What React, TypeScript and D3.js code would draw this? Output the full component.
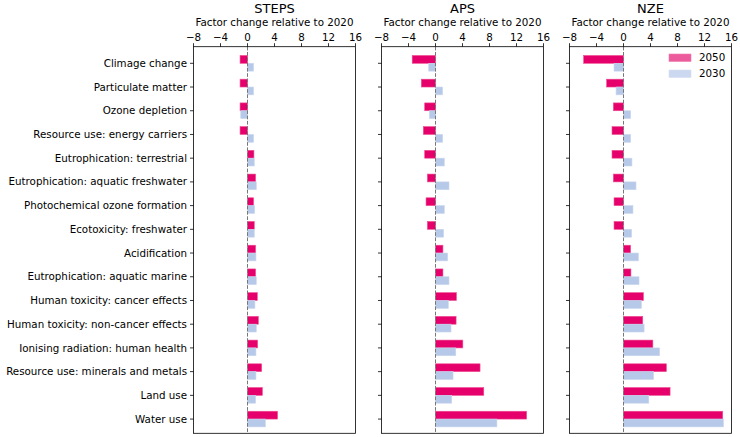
import React from "react";
import * as d3 from "d3";

const categories = [
  "Climage change",
  "Particulate matter",
  "Ozone depletion",
  "Resource use: energy carriers",
  "Eutrophication: terrestrial",
  "Eutrophication: aquatic freshwater",
  "Photochemical ozone formation",
  "Ecotoxicity: freshwater",
  "Acidification",
  "Eutrophication: aquatic marine",
  "Human toxicity: cancer effects",
  "Human toxicity: non-cancer effects",
  "Ionising radiation: human health",
  "Resource use: minerals and metals",
  "Land use",
  "Water use",
];

const scenarios = ["STEPS", "APS", "NZE"];

const steps2050 = [-1.1, -1.1, -1.1, -1.1, 0.95, 1.2, 0.9, 1.0, 1.2, 1.2, 1.45, 1.6, 1.5, 2.1, 2.2, 4.45];
const steps2030 = [0.9, 0.9, -1.0, 0.9, 1.0, 1.3, 1.05, 1.0, 1.25, 1.3, 1.1, 1.3, 1.25, 1.25, 1.2, 2.65];
const aps2050 = [-3.45, -2.1, -1.6, -1.8, -1.6, -1.2, -1.4, -1.2, 1.1, 1.1, 3.1, 3.05, 4.05, 6.6, 7.15, 13.5];
const aps2030 = [-1.0, 1.05, -0.9, 1.05, 1.3, 2.0, 1.3, 1.2, 1.8, 2.0, 1.9, 2.3, 3.0, 2.6, 2.4, 9.1];
const nze2050 = [-5.9, -2.5, -1.5, -1.7, -1.7, -1.5, -1.4, -1.4, 1.05, 1.1, 2.95, 2.85, 4.35, 6.35, 6.9, 14.7];
const nze2030 = [-1.4, -1.1, 1.05, 1.05, 1.25, 1.85, 1.4, 1.2, 2.2, 2.3, 2.65, 3.05, 5.35, 4.45, 3.75, 14.8];

const values2050 = [steps2050, aps2050, nze2050];
const values2030 = [steps2030, aps2030, nze2030];

const xTicks = [-8, -4, 0, 4, 8, 12, 16];
const xLabel = "Factor change relative to 2020";
const legendLabels = ["2050", "2030"];

const W = 740;
const H = 437;
const panelLefts = [193.5, 381.5, 569.5];
const panelWidth = 162;
const top = 46.7;
const bottom = 433.3;
const barH = 0.33;

const c2050 = "#E5006B";
const c2050edge = "#EE4C92";
const c2030 = "#B7C9E8";
const c2030edge = "#C9D6EE";

const font = "'DejaVu Sans', sans-serif";
const fs = 10.3;

export default function App() {
  const y = d3.scaleLinear().domain([-0.7, 15.6]).range([top, bottom]);
  const fmt = (v: number) => (v < 0 ? "\u2212" + Math.abs(v) : String(v));

  return (
    <svg width={W} height={H} style={{ display: "block", position: "absolute", left: 0, top: 0 }} fontFamily={font}>
      <rect width={W} height={H} fill="white" />
      {scenarios.map((sc, p) => {
        const left = panelLefts[p];
        const x = d3.scaleLinear().domain([-8, 16]).range([left, left + panelWidth]);
        const cx = left + panelWidth / 2;
        const v50 = values2050[p];
        const v30 = values2030[p];
        return (
          <g key={sc}>
            <text x={cx} y={12.5} textAnchor="middle" fontSize={13} fontWeight="normal" fill="#000">{sc}</text>
            <text x={cx} y={26.3} textAnchor="middle" fontSize={fs} fill="#000">{xLabel}</text>
            {xTicks.map((t) => (
              <g key={t}>
                <line x1={x(t)} x2={x(t)} y1={top} y2={top - 3.5} stroke="#000" strokeWidth={0.8} />
                <text x={x(t)} y={top - 6} textAnchor="middle" fontSize={fs} fill="#000">{fmt(t)}</text>
              </g>
            ))}
            {categories.map((c, i) => (
              <g key={c}>
                <rect
                  x={Math.min(x(0), x(v50[i]))}
                  y={y(i) - (y(barH) - y(0))}
                  width={Math.abs(x(v50[i]) - x(0))}
                  height={y(barH) - y(0)}
                  fill={c2050}
                  stroke={c2050edge}
                  strokeWidth={0.6}
                />
                <rect
                  x={Math.min(x(0), x(v30[i]))}
                  y={y(i)}
                  width={Math.abs(x(v30[i]) - x(0))}
                  height={y(barH) - y(0)}
                  fill={c2030}
                  stroke={c2030edge}
                  strokeWidth={0.6}
                />
                <line x1={left} x2={left - 3.5} y1={y(i)} y2={y(i)} stroke="#000" strokeWidth={0.8} />
                {p === 0 && (
                  <text x={left - 6.5} y={y(i)} dy="0.35em" textAnchor="end" fontSize={fs} fill="#000">{c}</text>
                )}
              </g>
            ))}
            <line x1={x(0)} x2={x(0)} y1={top} y2={bottom} stroke="#777" strokeWidth={1} strokeDasharray="3.7,1.6" />
            <rect x={left} y={top} width={panelWidth} height={bottom - top} fill="none" stroke="#000" strokeWidth={0.8} />
            {p === 2 && (
              <g>
                <rect x={669} y={54} width={22} height={7.5} fill="#EC5B9B" stroke="#F07DB0" strokeWidth={0.6} />
                <text x={699} y={57.7} dy="0.35em" fontSize={fs} fill="#000">{legendLabels[0]}</text>
                <rect x={669} y={70} width={22} height={7.5} fill="#CCD8EF" stroke="#D8E1F2" strokeWidth={0.6} />
                <text x={699} y={73.7} dy="0.35em" fontSize={fs} fill="#000">{legendLabels[1]}</text>
              </g>
            )}
          </g>
        );
      })}
    </svg>
  );
}
